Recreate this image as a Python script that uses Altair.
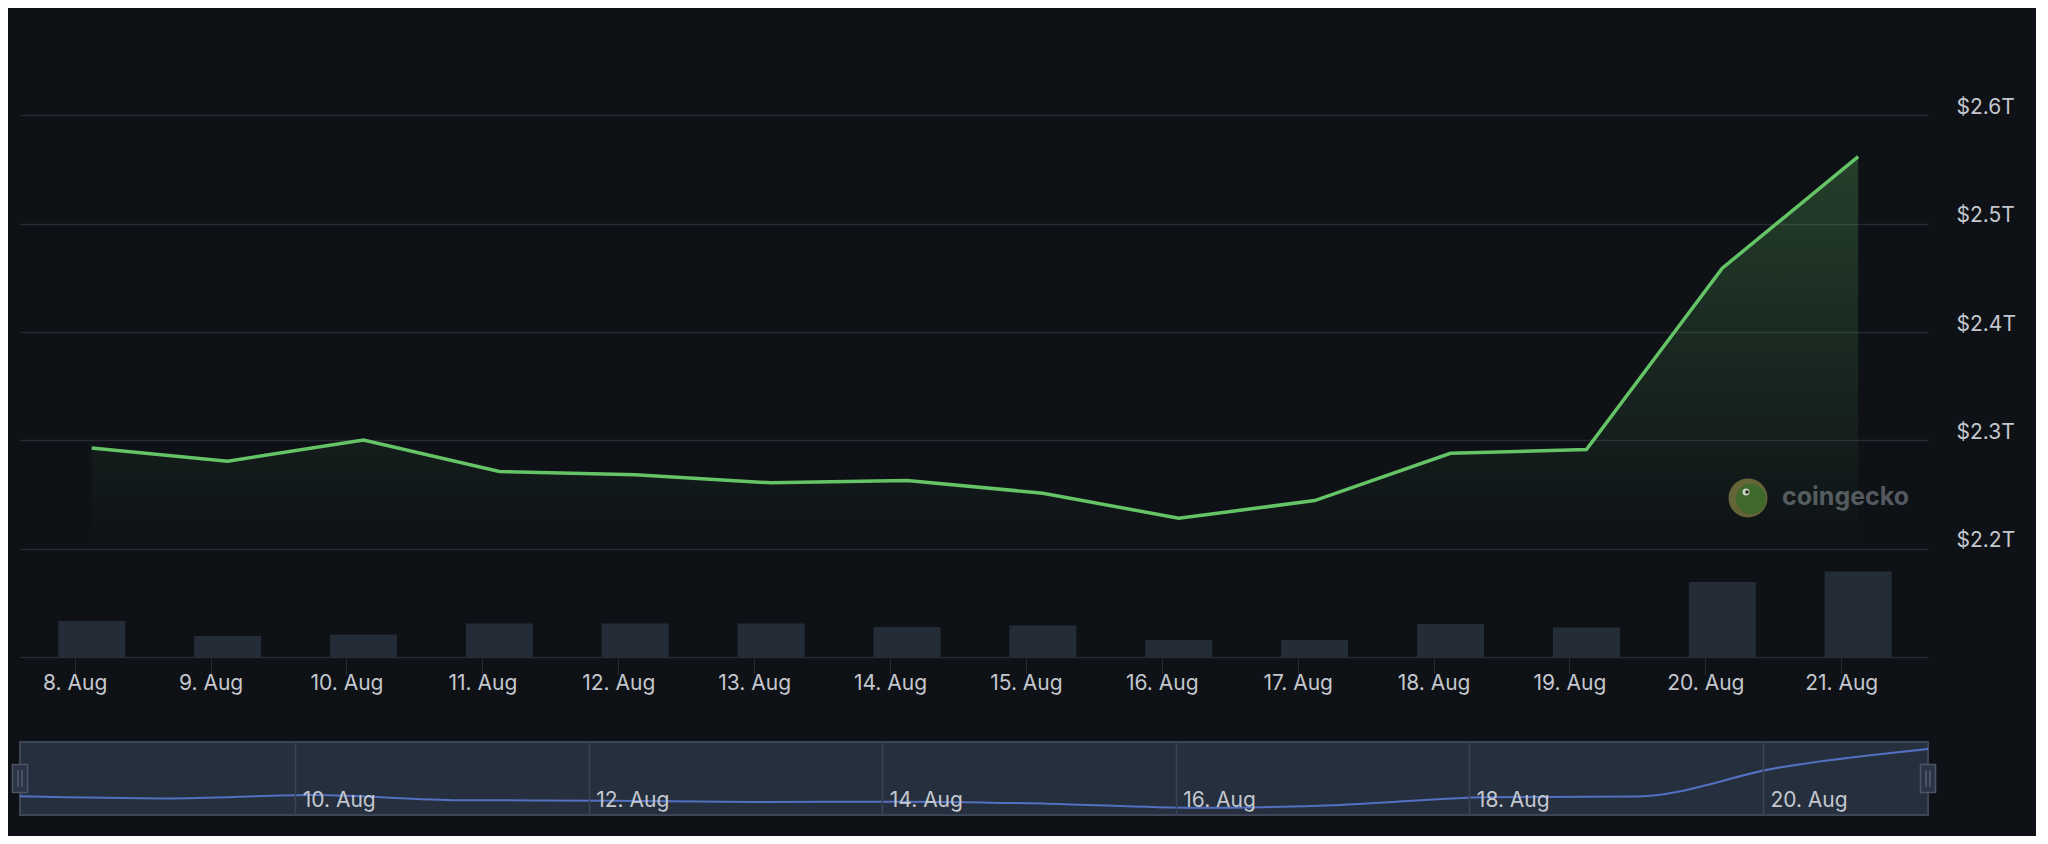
import altair as alt
import pandas as pd

# ---- data ----
dates = [
    "2021-08-08T03:00:00Z", "2021-08-09T03:00:00Z", "2021-08-10T03:00:00Z",
    "2021-08-11T03:00:00Z", "2021-08-12T03:00:00Z", "2021-08-13T03:00:00Z",
    "2021-08-14T03:00:00Z", "2021-08-15T03:00:00Z", "2021-08-16T03:00:00Z",
    "2021-08-17T03:00:00Z", "2021-08-18T03:00:00Z", "2021-08-19T03:00:00Z",
    "2021-08-20T03:00:00Z", "2021-08-21T03:00:00Z",
]
market_cap_t = [2.2929, 2.2808, 2.3003, 2.2713, 2.2682, 2.2608, 2.2630,
                2.2512, 2.2281, 2.2444, 2.2881, 2.2915, 2.4589, 2.5620]
volume_b = [72, 42, 45, 67, 67, 67, 60, 63, 34, 34, 66, 59, 150, 171]
price_ticks = [2.2, 2.3, 2.4, 2.5, 2.6]
main_tick_days = [8, 9, 10, 11, 12, 13, 14, 15, 16, 17, 18, 19, 20, 21]
nav_tick_days = [10, 12, 14, 16, 18, 20]
watermark = ["coingecko"]

df = pd.DataFrame({"date": dates, "cap": market_cap_t, "vol": volume_b})
handles_df = pd.DataFrame({"date": [dates[0], dates[-1]]})
wm_df = pd.DataFrame({"t": watermark})

BG = "#0e1116"
GRID = "#272b32"
LABEL = "#c4c8ce"
GREEN = "#65c466"
BAR = "#242c38"
NAV_FILL = "#262f3e"
NAV_GRID = "#3b4455"
NAV_LINE = "#5470c0"
FONT = "Inter"


def dt(day, h=0, m=0):
    return alt.DateTime(year=2021, month=8, date=day, hours=h, minutes=m, utc=True)


date_fmt = "utcFormat(datum.value, '%-d. %b')"

x_main = alt.X(
    "date:T",
    scale=alt.Scale(type="utc", domain=[dt(7, 15, 13), dt(21, 14, 27)]),
    axis=alt.Axis(
        values=[dt(d) for d in main_tick_days], labelExpr=date_fmt, title=None,
        grid=False, domainColor=GRID, domainWidth=1.5, tickColor=GRID,
        tickWidth=1, tickSize=17, labelPadding=9, labelBaseline="middle",
        labelColor=LABEL, labelFontSize=21, labelFlush=False, labelOverlap=False,
    ),
)

price_scale = alt.Scale(domain=[2.1, 2.6982], zero=False)

bars = alt.Chart(df).mark_bar(width=67, color=BAR).encode(
    x=x_main,
    y=alt.Y("vol:Q", scale=alt.Scale(domain=[0, 1296]), axis=None),
)

area = alt.Chart(df).mark_area(
    color=alt.Gradient(
        gradient="linear",
        stops=[alt.GradientStop(color="rgba(99,196,100,0.26)", offset=0),
               alt.GradientStop(color="rgba(99,196,100,0.0)", offset=1)],
        x1=1, x2=1, y1=0, y2=1,
    )
).encode(
    x=x_main,
    y=alt.Y("cap:Q", scale=price_scale, axis=None),
    y2=alt.datum(2.2),
)

line = alt.Chart(df).mark_line(color=GREEN, strokeWidth=3.5).encode(
    x=x_main,
    y=alt.Y(
        "cap:Q", scale=price_scale,
        axis=alt.Axis(
            orient="right", values=price_ticks,
            labelExpr="'$' + format(datum.value, '.1f') + 'T'",
            grid=True, gridColor=GRID, gridWidth=1.5, domain=False, ticks=False,
            tickSize=0, labelAlign="left", labelPadding=28, labelOffset=-8,
            labelBaseline="middle", labelColor=LABEL, labelFontSize=21, title=None,
        ),
    ),
)

# watermark (decoration)
wm_ring = alt.Chart(wm_df).mark_point(
    shape="circle", filled=True, size=1521, color="#646136", opacity=1
).encode(x=alt.value(1728), y=alt.value(489))
wm_head = alt.Chart(wm_df).mark_point(
    shape="circle", filled=True, size=900, color="#3e6629", opacity=1
).encode(x=alt.value(1731), y=alt.value(490))
wm_eye = alt.Chart(wm_df).mark_point(
    shape="circle", filled=True, size=49, color="#cfd4c6", opacity=1
).encode(x=alt.value(1726), y=alt.value(483))
wm_pupil = alt.Chart(wm_df).mark_point(
    shape="circle", filled=True, size=12, color="#1a1d18", opacity=1
).encode(x=alt.value(1727), y=alt.value(483))
wm_text = alt.Chart(wm_df).mark_text(
    align="left", baseline="middle", font=FONT, fontSize=25, fontWeight="bold",
    color="#55595f",
).encode(text="t:N", x=alt.value(1762), y=alt.value(488))

main = alt.layer(
    wm_ring, wm_head, wm_eye, wm_pupil, wm_text, bars, area, line
).resolve_scale(y="independent").properties(width=1908, height=648)

# ---- navigator ----
x_nav = alt.X(
    "date:T",
    scale=alt.Scale(type="utc", domain=[dt(8, 3), dt(21, 3)]),
    axis=alt.Axis(
        values=[dt(d) for d in nav_tick_days], labelExpr=date_fmt, title=None,
        grid=True, gridColor=NAV_GRID, gridWidth=1.5, domain=False, ticks=False,
        tickSize=0, labelAlign="left", labelBaseline="middle", labelPadding=-15,
        labelOffset=7, labelColor=LABEL, labelFontSize=21, labelFlush=False,
        labelOverlap=False, zindex=1,
    ),
)

nav_line = alt.Chart(df).mark_line(
    color=NAV_LINE, strokeWidth=2, interpolate="monotone"
).encode(
    x=x_nav,
    y=alt.Y("cap:Q", scale=alt.Scale(domain=[2.187, 2.602], zero=False), axis=None),
)

handles = alt.Chart(handles_df).mark_point(
    shape="M-0.54,-1H0.54V1H-0.54Z", size=784, filled=True, fill="#2b3444",
    stroke="#4b5567", strokeWidth=1.5, opacity=1,
).encode(x=x_nav, y=alt.value(36.5))

grips = alt.Chart(handles_df).mark_point(
    shape="M-0.14,-0.6V0.6M0.14,-0.6V0.6", size=784, filled=False,
    stroke="#6b7588", strokeWidth=1, opacity=1,
).encode(x=x_nav, y=alt.value(36.5))

nav = alt.layer(nav_line, handles, grips).properties(
    width=1908, height=73,
    view=alt.ViewBackground(fill=NAV_FILL, stroke="#3d4657", strokeWidth=2),
)

chart = alt.vconcat(main, nav, spacing=85, bounds="flush").properties(
    padding={"left": 0, "top": 0, "right": 20, "bottom": 20}
).configure(background=BG, font=FONT).configure_view(stroke="transparent")

chart.save("out.html", embed_options={"renderer": "svg", "actions": False})
